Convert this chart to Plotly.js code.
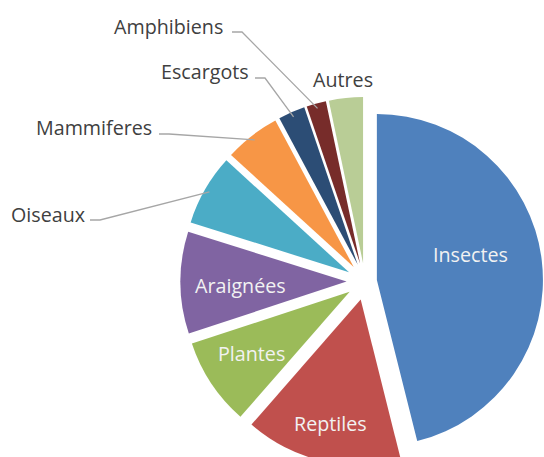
<!DOCTYPE html>
<html>
<head>
<meta charset="utf-8">
<script src="https://cdn.plot.ly/plotly-3.0.1.min.js"></script>
<style>
  html, body { margin: 0; padding: 0; background: #ffffff; overflow: hidden; }
  #wrap { position: relative; width: 544px; height: 457px; overflow: hidden; background: #ffffff; }
  #chart { position: absolute; left: 0; top: 0; width: 600px; height: 520px; }
</style>
</head>
<body>
<div id="wrap"><div id="chart"></div></div>
<script>
// ---- data ----
const labels = ['Insectes', 'Reptiles', 'Plantes', 'Araignées', 'Oiseaux', 'Mammiferes', 'Escargots', 'Amphibiens', 'Autres'];
const values = [46.0, 15.3, 8.5, 9.9, 6.9, 5.4, 2.6, 1.9, 3.3];

// ---- styling ----
const colors = ['#4F81BD', '#C0504D', '#9BBB59', '#8064A2', '#4BACC6', '#F79646', '#2C4D75', '#772C2A', '#B9CD96'];
const pulls  = [0.072, 0.111, 0.111, 0.111, 0.111, 0.111, 0.111, 0.111, 0.111];
// label placement: [x, y] in page pixels, inside (light) or outside (dark), leader line stub start
const labelPos = [[470, 254], [330, 423], [251, 353], [240, 285], [48, 214], [94, 127], [204.5, 72], [168.5, 26], [342.5, 79]];
const labelInside = [true, true, true, true, false, false, false, false, false];
const leaderStub = [null, null, null, null, [90, 220], [159, 134], [255, 78], [232, 32], null];

const W = 600, H = 520;
const px = x => x / W;
const py = y => 1 - y / H;

// pie box (page pixels)
const dom = { x: [180.5 / W, 549.5 / W], y: [1 - 466 / H, 1 - 97 / H] };
const cx = W * (dom.x[0] + dom.x[1]) / 2;
const boxH = H * (dom.y[1] - dom.y[0]);
const cy = H * (1 - dom.y[0]) - boxH / 2;
const maxPull = Math.max(...pulls);
const R = Math.min(W * (dom.x[1] - dom.x[0]), boxH) / 2 / (1 + maxPull);

const total = values.reduce((a, b) => a + b, 0);
let cum = 0;
const midAngles = values.map(v => { const m = (cum + v / 2) / total * 2 * Math.PI; cum += v; return m; });

const FONT = '"Open Sans", "DejaVu Sans", sans-serif';

const annotations = labels.map((t, i) => ({
  text: t, showarrow: false, xref: 'paper', yref: 'paper',
  x: px(labelPos[i][0]), y: py(labelPos[i][1]), xanchor: 'center', yanchor: 'middle',
  font: { family: FONT, size: 19.7, color: labelInside[i] ? '#F2F2F2' : '#404040' }
}));

const shapes = [];
labels.forEach((t, i) => {
  if (!leaderStub[i]) return;
  const a = midAngles[i];
  const dx = Math.sin(a), dy = -Math.cos(a);
  const rr = (pulls[i] + 0.97) * R;
  const ex = cx + dx * rr, ey = cy + dy * rr;
  const [sx, sy] = leaderStub[i];
  const path = `M${px(sx)},${py(sy)} L${px(sx + 10)},${py(sy)} L${px(ex)},${py(ey)}`;
  shapes.push({ type: 'path', xref: 'paper', yref: 'paper', path: path,
    line: { color: '#A6A6A6', width: 1.3 } });
});

const trace = {
  type: 'pie',
  labels: labels,
  values: values,
  sort: false,
  direction: 'clockwise',
  rotation: 0,
  pull: pulls,
  marker: { colors: colors, line: { width: 0 } },
  textinfo: 'none',
  hoverinfo: 'skip',
  showlegend: false,
  domain: dom
};

const layout = {
  width: W, height: H,
  margin: { l: 0, r: 0, t: 0, b: 0, pad: 0 },
  paper_bgcolor: '#ffffff',
  plot_bgcolor: '#ffffff',
  showlegend: false,
  annotations: annotations,
  shapes: shapes
};

Plotly.newPlot('chart', [trace], layout, { displayModeBar: false, staticPlot: true });
</script>
</body>
</html>
